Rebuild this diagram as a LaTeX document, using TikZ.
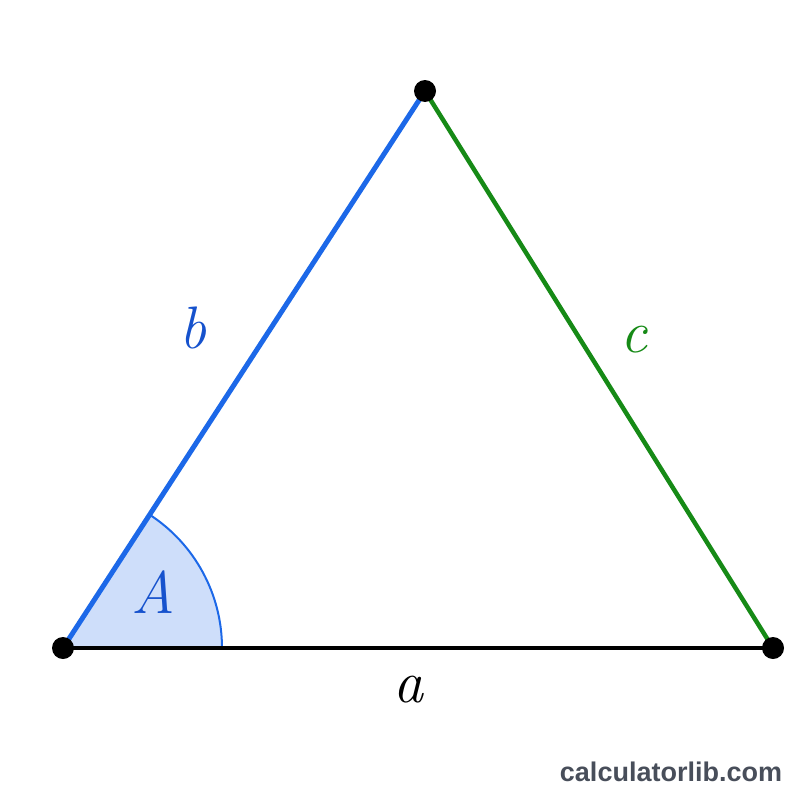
\documentclass[tikz,border=0pt]{standalone}
\usepackage{fontspec}
\newfontfamily\wmfont{Liberation Sans}
\definecolor{lineblue}{RGB}{28,104,232}
\definecolor{textblue}{RGB}{22,82,205}
\definecolor{fillblue}{RGB}{206,222,250}
\definecolor{linegreen}{RGB}{22,138,22}
\definecolor{wmgray}{RGB}{72,78,90}
\tikzset{
  vertexdot/.style={circle,fill=black,inner sep=0pt,minimum size=22pt},
  sidelabel/.style={font=\fontsize{60}{62}\selectfont\itshape},
}
\begin{document}
\begin{tikzpicture}[x=1pt,y=-1pt]
\useasboundingbox (0,0) rectangle (800,800);
\coordinate (L) at (63,648);
\coordinate (T) at (425,91);
\coordinate (R) at (773,648);
% angle sector
\fill[fillblue] (L) -- ++(0:159pt) arc[start angle=0,end angle=56.98,radius=159pt] -- cycle;
\draw[lineblue,line width=2pt] (L) ++(0:159pt) arc[start angle=0,end angle=56.98,radius=159pt];
% sides
\draw[black,line width=4pt] (L) -- (R);
\draw[lineblue,line width=5pt] (L) -- (T);
\draw[linegreen,line width=4.5pt] (T) -- (R);
% vertices
\node[vertexdot] (vL) at (L) {};
\node[vertexdot] (vT) at (T) {};
\node[vertexdot] (vR) at (R) {};
% labels
\node[sidelabel,text=textblue] (lb) at (193,328) {b};
\node[sidelabel,text=linegreen] (lc) at (634,340) {c};
\node[sidelabel,text=black] (la) at (408,690) {a};
\node[sidelabel,text=textblue] (lA) at (153,592) {A};
\node[font=\wmfont\bfseries\fontsize{27}{29}\selectfont,text=wmgray] (wm) at (671,772) {calculatorlib.com};
\end{tikzpicture}
\end{document}
